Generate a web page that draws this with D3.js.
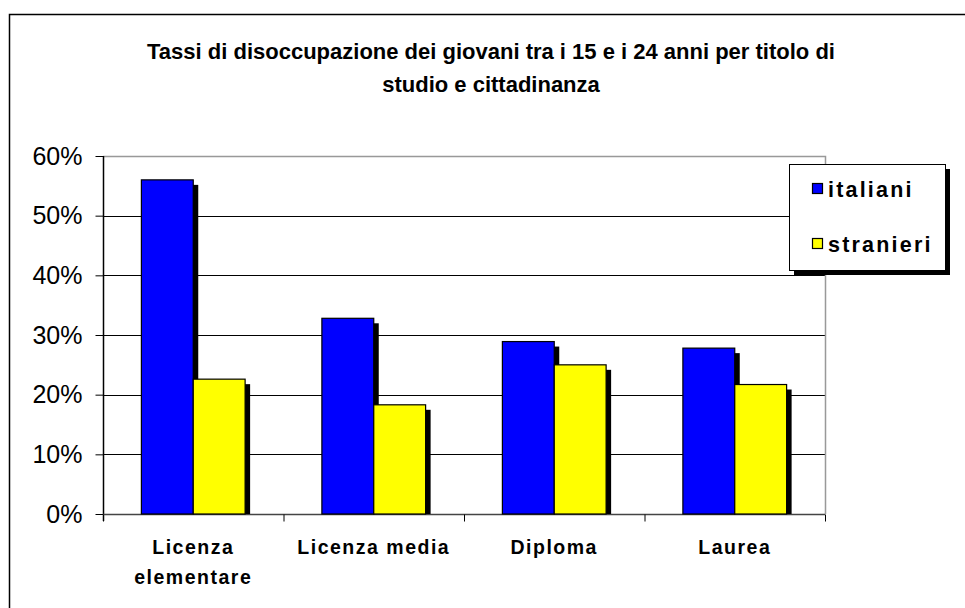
<!DOCTYPE html>
<html><head><meta charset="utf-8">
<script src="https://cdn.jsdelivr.net/npm/d3@7"></script>
<style>
html,body{margin:0;padding:0;background:#fff;}
svg{display:block;font-family:"Liberation Sans",Arial,sans-serif;}
</style></head>
<body>
<svg id="c" width="965" height="608"></svg>
<script>
const titleLines = ["Tassi di disoccupazione dei giovani tra i 15 e i 24 anni per titolo di", "studio e cittadinanza"];
const categories = [["Licenza", "elementare"], ["Licenza media"], ["Diploma"], ["Laurea"]];
const seriesNames = ["italiani", "stranieri"];
const seriesColors = ["#0000ff", "#ffff00"];
const italiani = [0.56, 0.328, 0.289, 0.278];
const stranieri = [0.226, 0.183, 0.250, 0.217];
const yTicks = [0, 0.1, 0.2, 0.3, 0.4, 0.5, 0.6];

const svg = d3.select("#c");
const L = 103, R = 825, T = 156, B = 514;

// outer frame
svg.append("rect").attr("x", 9.5).attr("y", 14.5).attr("width", 1000).attr("height", 700)
  .attr("fill", "none").attr("stroke", "#000").attr("stroke-width", 1.5);

// title
svg.append("text").attr("text-anchor", "middle").attr("font-weight", "bold").attr("font-size", 22)
  .selectAll("tspan").data(titleLines).join("tspan")
  .attr("x", 491).attr("y", (d, i) => 59 + i * 33).text(d => d);

const x0 = d3.scaleBand().domain(d3.range(categories.length)).range([L, R]).paddingInner(0).paddingOuter(0);
const x1 = d3.scaleBand().domain(seriesNames).range([0, x0.bandwidth()]).paddingInner(0).paddingOuter(0.74);
const y = d3.scaleLinear().domain([0, 0.6]).range([B, T]);

// gridlines
svg.append("g").selectAll("line").data(yTicks.filter(v => v > 0 && v < 0.6)).join("line")
  .attr("x1", L).attr("x2", R).attr("y1", d => Math.round(y(d)) + 0.5).attr("y2", d => Math.round(y(d)) + 0.5)
  .attr("stroke", "#000").attr("stroke-width", 1);
// plot border top/right gray
svg.append("path").attr("d", `M${L},${T + 0.5}H${R + 0.5}V${B}`).attr("fill", "none")
  .attr("stroke", "#999").attr("stroke-width", 1.5);

// y axis
const yAxis = d3.axisLeft(y).tickValues(yTicks).tickFormat(d3.format(".0%")).tickSize(8).tickPadding(13);
const gy = svg.append("g").attr("transform", `translate(${L + 0.5},0)`).call(yAxis);
gy.select(".domain").attr("stroke", "#000").attr("stroke-width", 1.5).attr("d", `M0,${T}V${B + 7}`);
gy.selectAll(".tick line").attr("stroke", "#000");
gy.selectAll(".tick text").attr("font-size", 25).attr("font-family", "Liberation Sans, Arial, sans-serif").attr("fill", "#000");

// x axis
const gx = svg.append("g").attr("transform", `translate(0,${B + 0.5})`);
gx.append("line").attr("x1", L).attr("x2", R).attr("stroke", "#444").attr("stroke-width", 1.5);
gx.selectAll("line.t").data(d3.range(categories.length + 1)).join("line").attr("class", "t")
  .attr("x1", d => (d < categories.length ? x0(d) : R) + 0.5).attr("x2", d => (d < categories.length ? x0(d) : R) + 0.5)
  .attr("y1", 0).attr("y2", 7).attr("stroke", "#000");
gx.selectAll("text").data(categories).join("text")
  .attr("text-anchor", "middle").attr("font-weight", "bold").attr("font-size", 19.5).attr("letter-spacing", 1.5)
  .attr("transform", (d, i) => `translate(${x0(i) + x0.bandwidth() / 2},0)`)
  .selectAll("tspan").data(d => d).join("tspan").attr("x", 0).attr("y", (d, i) => 39 + i * 30).text(d => d);

// bars
const data = categories.map((c, i) => [italiani[i], stranieri[i]]);
const groups = svg.append("g").selectAll("g").data(data).join("g")
  .attr("transform", (d, i) => `translate(${x0(i)},0)`);
groups.each(function (vals) {
  const g = d3.select(this);
  vals.forEach((v, j) => {
    const bx = x1(seriesNames[j]), bw = x1.bandwidth();
    g.append("rect").attr("x", bx + 5).attr("y", y(v) + 5).attr("width", bw).attr("height", B - y(v) - 5).attr("fill", "#000");
    g.append("rect").attr("x", bx).attr("y", y(v)).attr("width", bw).attr("height", B - y(v))
      .attr("fill", seriesColors[j]).attr("stroke", "#000").attr("stroke-width", 1.2);
  });
});

// legend
const lg = svg.append("g");
lg.append("rect").attr("x", 794).attr("y", 169).attr("width", 156).attr("height", 106).attr("fill", "#000");
lg.append("rect").attr("x", 789.5).attr("y", 164.5).attr("width", 156).attr("height", 106)
  .attr("fill", "#fff").attr("stroke", "#000").attr("stroke-width", 1);
const items = lg.selectAll("g.it").data(seriesNames).join("g").attr("class", "it")
  .attr("transform", (d, i) => `translate(812,${189 + i * 55})`);
items.append("rect").attr("x", 0.5).attr("y", -5.5).attr("width", 10).attr("height", 10)
  .attr("fill", (d, i) => seriesColors[i]).attr("stroke", "#000").attr("stroke-width", 1.2);
items.append("text").attr("x", 16).attr("y", 7.5).attr("font-weight", "bold").attr("font-size", 21.5)
  .attr("letter-spacing", 2.2).text(d => d);
</script>
</body></html>
